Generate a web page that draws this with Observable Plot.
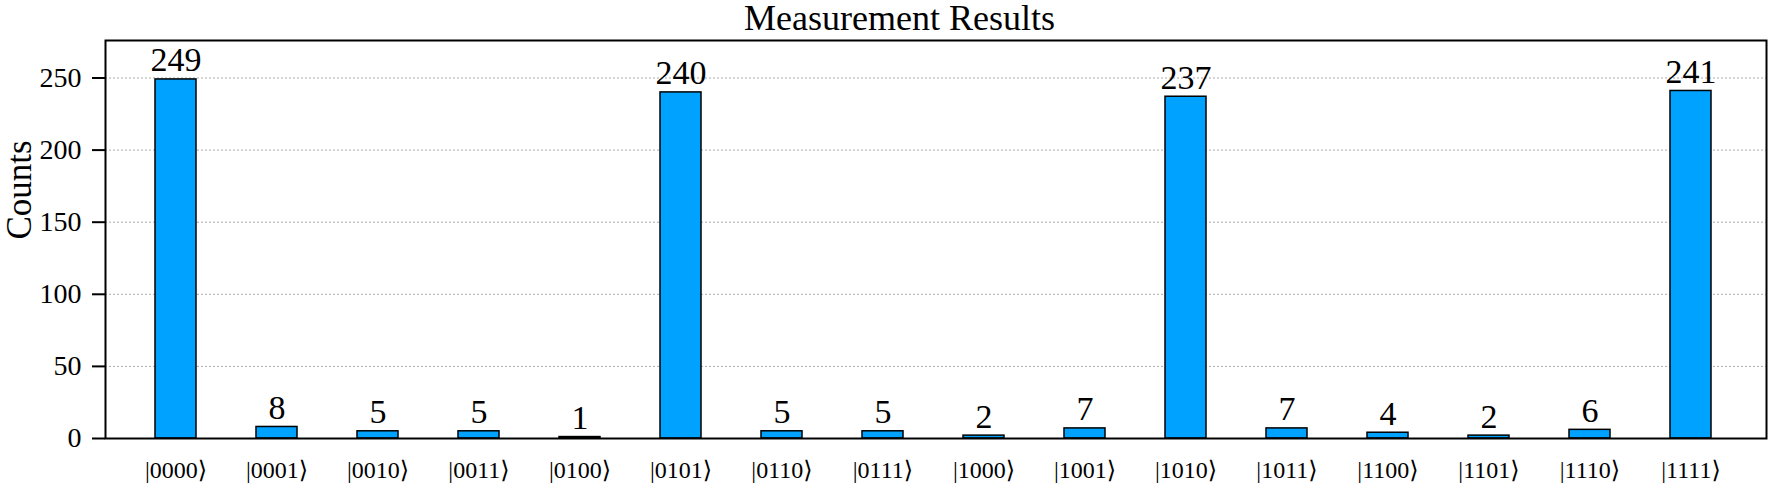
<!DOCTYPE html>
<html><head><meta charset="utf-8">
<script src="https://cdn.jsdelivr.net/npm/d3@7"></script>
<script src="https://cdn.jsdelivr.net/npm/@observablehq/plot@0.6"></script>
<style>
body{margin:0;background:#fff;}
#title{height:36px;width:1769px;font-family:'Liberation Serif','DejaVu Serif',serif;font-size:36px;line-height:36px;text-align:center;padding-left:30px;box-sizing:border-box;white-space:nowrap;color:#000}
#chart svg{display:block}
</style></head><body>
<div id="title"></div>
<div id="chart"></div>
<script>
const titleText = "Measurement Results";
const yLabel = "Counts";
const states = ["0000","0001","0010","0011","0100","0101","0110","0111","1000","1001","1010","1011","1100","1101","1110","1111"];
const counts = [249, 8, 5, 5, 1, 240, 5, 5, 2, 7, 237, 7, 4, 2, 6, 241];
const yTicks = [0, 50, 100, 150, 200, 250];

document.getElementById("title").textContent = titleText;
const labels = states.map(s => "|" + s + "\u27E9");
const data = states.map((s, i) => ({state: labels[i], count: counts[i]}));

const chart = Plot.plot({
  width: 1769, height: 448,
  marginLeft: 105, marginRight: 3, marginTop: 4, marginBottom: 46,
  style: {fontFamily: "'Liberation Serif','DejaVu Serif',serif", background: "white", color: "black"},
  x: {domain: labels, range: [105, 1760], paddingInner: 0.596, paddingOuter: 0.441, axis: null},
  y: {domain: [0, 276], axis: null},
  marks: [
    Plot.gridY(yTicks.filter(d => d > 0), {stroke: "#aaa", strokeOpacity: 1, strokeDasharray: "2,2", strokeWidth: 1}),
    Plot.barY(data, {x: "state", y: "count", fill: "#00a2ff", stroke: "black", strokeWidth: 1.5}),
    Plot.text(data, {x: "state", y: "count", text: d => String(d.count), dy: -8, lineAnchor: "bottom", fontSize: 34, fill: "black"}),
    Plot.axisY({ticks: yTicks, tickSize: 13, tickPadding: 11, fontSize: 28, strokeWidth: 2, label: null}),
    Plot.axisX({tickSize: 0, tickPadding: 22, fontSize: 24, label: null}),
    Plot.frame({stroke: "black", strokeWidth: 2}),
    Plot.text([yLabel], {text: d => d, frameAnchor: "left", dx: -86, rotate: -90, fontSize: 35, fill: "black"})
  ]
});
document.getElementById("chart").appendChild(chart);
</script>
</body></html>
